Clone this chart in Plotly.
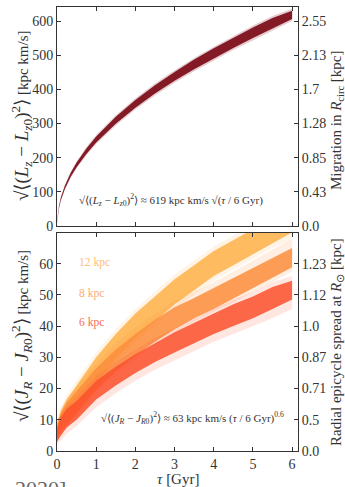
import plotly.graph_objects as go

# ---------------- data ----------------
tau_lz = [0, 0.05, 0.1, 0.2, 0.35, 0.5, 0.75, 1, 1.5, 2, 2.5, 3, 3.5, 4, 4.5, 5, 5.5, 6]
lz_core_lo = [8, 52, 76, 108, 144, 172, 211, 244, 299, 346, 388, 425, 459, 491, 521, 550, 577, 606]
lz_core_hi = [12, 58, 84, 118, 156, 186, 227, 262, 320, 369, 412, 451, 487, 520, 551, 581, 609, 630]
lz_halo_lo = [7, 50, 74, 106, 141, 169, 207, 240, 294, 341, 382, 419, 453, 485, 515, 543, 571, 600]
lz_halo_hi = [13, 60, 86, 120, 159, 189, 231, 266, 324, 374, 417, 456, 492, 525, 557, 587, 615, 636]

tau_jr = [0, 0.1, 0.25, 0.5, 1, 1.5, 2, 2.5, 3, 3.5, 4, 4.5, 5, 5.5, 6]
j12_core_lo = [5, 7, 9.5, 13, 22, 29.5, 36, 41.5, 47, 51.5, 56, 59.5, 63, 66.5, 70]
j12_core_hi = [9, 13, 16.5, 21, 30, 37.5, 44, 49.5, 55, 59.5, 64, 67.5, 71, 74.5, 78]
j12_halo_lo = [4, 6, 8.5, 11.5, 20.5, 28, 34.5, 40, 45.5, 50, 54.5, 58, 61.5, 65, 68]
j12_halo_hi = [10, 14, 18, 22.5, 31.5, 39, 45.5, 51, 56.5, 61, 65.5, 69, 72.5, 76, 80]

j8_core_lo = [4, 6, 8.5, 12, 19.5, 25.5, 30.5, 35, 39, 42.5, 45.5, 48.8, 52, 55.3, 58.8]
j8_core_hi = [8, 12, 15.5, 19, 26.5, 32.5, 37.5, 42, 46, 49, 52, 55.2, 58.5, 61.8, 65]
j8_halo_lo = [3, 5, 7.5, 11, 18.5, 24.5, 29.5, 34, 38, 41.5, 44.5, 47.5, 51, 54, 57.5]
j8_halo_hi = [9, 13, 17, 20.5, 28, 34.5, 39.5, 44, 48, 51, 54, 57.5, 61, 64.5, 68]

j6_core_lo = [3, 5, 7.5, 10, 16.5, 21, 25, 28.5, 31.5, 34.5, 37.5, 40, 42.5, 45.5, 48.5]
j6_core_hi = [7, 11, 13.5, 16, 22.5, 27, 31, 34.5, 38, 41, 44, 47, 49.5, 52.5, 54.5]
j6_halo_lo = [2, 3.5, 5.5, 8, 14, 18.5, 22.5, 26, 29, 32, 35, 37.5, 40, 42.5, 45.5]
j6_halo_hi = [8, 12, 14.5, 17.5, 24, 28.5, 32.5, 36, 39.5, 42.5, 45.5, 48.5, 51, 54, 56]

x_ticks = [0, 1, 2, 3, 4, 5, 6]
lz_ticks = [0, 100, 200, 300, 400, 500, 600]
lz_right_labels = ["0.0", "0.43", "0.85", "1.28", "1.7", "2.13", "2.55"]
jr_ticks = [0, 10, 20, 30, 40, 50, 60]
jr_right_labels = ["0.0", "0.5", "0.71", "0.87", "1.0", "1.12", "1.23"]

band_labels = ["12 kpc", "8 kpc", "6 kpc"]
band_label_y = [60.5, 50.3, 41]

# ---------------- styles ----------------
FONT = "Liberation Serif"
AX = "#333333"
C_LZ = "123,11,23"
C12 = "254,176,72"
C8 = "252,141,60"
C6 = "252,80,44"
TXT12 = "#fdbd73"
TXT8 = "#fcab70"
TXT6 = "#fb6a4c"


def band(x, lo, hi, rgb, alpha, xa, ya, lw=0.0):
    return go.Scatter(
        x=list(x) + list(x)[::-1],
        y=list(lo) + list(hi)[::-1],
        fill="toself",
        fillcolor=f"rgba({rgb},{alpha})",
        line=dict(width=lw, color=f"rgba({rgb},{alpha})"),
        mode="lines",
        hoverinfo="skip",
        showlegend=False,
        xaxis=xa,
        yaxis=ya,
    )


fig = go.Figure()
# top panel
fig.add_trace(band(tau_lz, lz_halo_lo, lz_halo_hi, C_LZ, 0.2, "x2", "y2"))
fig.add_trace(band(tau_lz, lz_core_lo, lz_core_hi, C_LZ, 0.92, "x2", "y2"))
# bottom panel
for lo_h, hi_h, lo_c, hi_c, col in [
    (j12_halo_lo, j12_halo_hi, j12_core_lo, j12_core_hi, C12),
    (j8_halo_lo, j8_halo_hi, j8_core_lo, j8_core_hi, C8),
    (j6_halo_lo, j6_halo_hi, j6_core_lo, j6_core_hi, C6),
]:
    fig.add_trace(band(tau_jr, lo_h, hi_h, col, 0.14, "x", "y"))
    fig.add_trace(band(tau_jr, lo_c, hi_c, col, 0.85, "x", "y"))

# dummy traces for right-hand axes
fig.add_trace(go.Scatter(x=[0], y=[0], mode="markers", marker=dict(opacity=0),
                         hoverinfo="skip", showlegend=False, xaxis="x2", yaxis="y3"))
fig.add_trace(go.Scatter(x=[0], y=[0], mode="markers", marker=dict(opacity=0),
                         hoverinfo="skip", showlegend=False, xaxis="x", yaxis="y4"))

tickfont = dict(family=FONT, size=14, color=AX)
common_x = dict(range=[0, 6.15], tickvals=x_ticks, ticks="inside", ticklen=4,
                tickcolor=AX, showline=True, linecolor=AX, linewidth=1,
                mirror="ticks", showgrid=False, zeroline=False, tickfont=tickfont,
                automargin=False)
common_y = dict(ticks="inside", ticklen=4, tickcolor=AX, showline=True,
                linecolor=AX, linewidth=1, mirror=True, showgrid=False,
                zeroline=False, tickfont=tickfont, automargin=False)

top_dom = [0.5068, 1.0]
bot_dom = [0.0, 0.491]

fig.update_layout(
    width=345, height=487,
    margin=dict(l=57, r=47, t=7, b=36, autoexpand=False),
    plot_bgcolor="white", paper_bgcolor="white",
    font=dict(family=FONT, color=AX),
    xaxis=dict(domain=[0, 1], anchor="y", **common_x),
    yaxis=dict(domain=bot_dom, anchor="x", range=[0, 69.8], tickvals=jr_ticks, **common_y),
    xaxis2=dict(domain=[0, 1], anchor="y2", showticklabels=False, **common_x),
    yaxis2=dict(domain=top_dom, anchor="x2", range=[0, 641], tickvals=lz_ticks, **common_y),
    yaxis3=dict(overlaying="y2", anchor="x2", side="right", range=[0, 641],
                tickvals=lz_ticks, ticktext=lz_right_labels, **common_y),
    yaxis4=dict(overlaying="y", anchor="x", side="right", range=[0, 69.8],
                tickvals=jr_ticks, ticktext=jr_right_labels, **common_y),
)


def A(**kw):
    kw.setdefault("showarrow", False)
    kw.setdefault("xanchor", "center")
    kw.setdefault("yanchor", "middle")
    return kw


BIG = "<span style='font-size:19px'>"
ann = []
# band labels
for lab, yy, col in zip(band_labels, band_label_y, [TXT12, TXT8, TXT6]):
    ann.append(A(x=0.5, y=yy, xref="x", yref="y", text=lab, xanchor="left",
                 font=dict(family=FONT, size=11.5, color=col)))
# formulas
ann.append(A(x=2.9, y=76, xref="x2", yref="y2",
             text="√⟨(<i>L<sub>z</sub></i> − <i>L</i><sub><i>z</i>0</sub>)<sup>2</sup>⟩ ≈ 619 kpc km/s √(<i>τ</i> / 6 Gyr)",
             font=dict(family=FONT, size=11, color=AX)))
ann.append(A(x=3.45, y=10.6, xref="x", yref="y",
             text="√⟨(<i>J<sub>R</sub></i> − <i>J</i><sub><i>R</i>0</sub>)<sup>2</sup>⟩ ≈ 63 kpc km/s (<i>τ</i> / 6 Gyr)<sup>0.6</sup>",
             font=dict(family=FONT, size=11, color=AX)))
# axis titles
ann.append(A(x=(21 - 57) / 241, y=(451 - 116) / 444, xref="paper", yref="paper",
             textangle=-90,
             text=BIG + "√⟨(<i>L<sub>z</sub></i> − <i>L</i><sub><i>z</i>0</sub>)<sup>2</sup>⟩</span> [kpc km/s]",
             font=dict(family=FONT, size=15, color=AX)))
ann.append(A(x=(21 - 57) / 241, y=(451 - 336) / 444, xref="paper", yref="paper",
             textangle=-90,
             text=BIG + "√⟨(<i>J<sub>R</sub></i> − <i>J</i><sub><i>R</i>0</sub>)<sup>2</sup>⟩</span> [kpc km/s]",
             font=dict(family=FONT, size=15, color=AX)))
ann.append(A(x=(337 - 57) / 241, y=(451 - 120) / 444, xref="paper", yref="paper",
             textangle=-90,
             text="Migration in <i>R</i><sub>circ</sub> [kpc]",
             font=dict(family=FONT, size=15, color=AX)))
ann.append(A(x=(337 - 57) / 241, y=(451 - 342) / 444, xref="paper", yref="paper",
             textangle=-90,
             text="Radial epicycle spread at <i>R</i><sub>⊙</sub> [kpc]",
             font=dict(family=FONT, size=15, color=AX)))
ann.append(A(x=0.5, y=(451 - 479) / 444, xref="paper", yref="paper",
             text="<i>τ</i> [Gyr]",
             font=dict(family=FONT, size=15, color=AX)))
ann.append(A(x=(13 - 57) / 241, y=(451 - 474) / 444, xref="paper", yref="paper",
             text="2020]", xanchor="left", yanchor="top",
             font=dict(family=FONT, size=22, color="#666666")))
fig.update_layout(annotations=ann)

fig.write_html("out.html", config={"displayModeBar": False},
               post_script="document.body.style.margin='0px';")
